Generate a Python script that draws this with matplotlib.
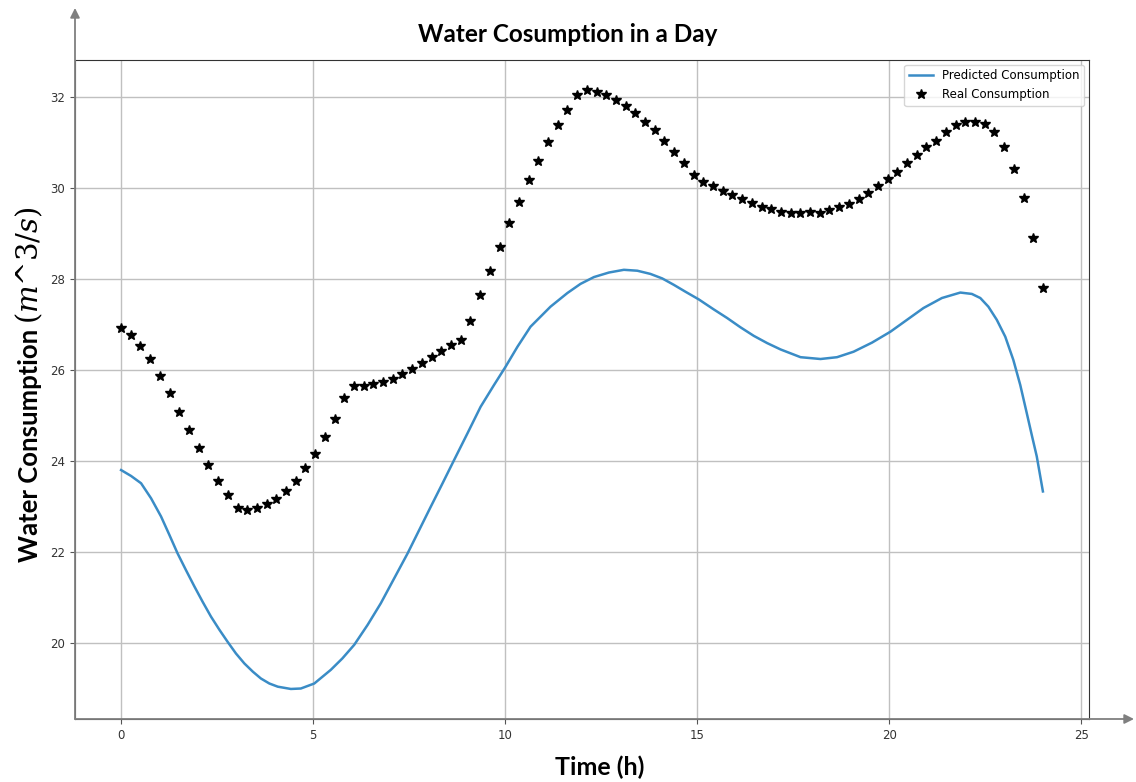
import numpy as np
import matplotlib
matplotlib.use("Agg")
import matplotlib.pyplot as plt
from matplotlib.patches import FancyArrowPatch

# ---- data ----
real_t = np.linspace(0, 24, 96)
real_values = [
    26.92, 26.77, 26.53, 26.24, 25.86, 25.49, 25.08, 24.69, 24.29, 23.92,
    23.57, 23.25, 22.96, 22.93, 22.96, 23.05, 23.16, 23.33, 23.57, 23.84,
    24.16, 24.53, 24.92, 25.38, 25.65, 25.65, 25.68, 25.73, 25.81, 25.91,
    26.02, 26.15, 26.29, 26.42, 26.55, 26.66, 27.08, 27.65, 28.18, 28.71,
    29.22, 29.69, 30.18, 30.60, 31.00, 31.38, 31.71, 32.04, 32.15, 32.10,
    32.04, 31.93, 31.80, 31.64, 31.45, 31.27, 31.03, 30.79, 30.55, 30.29,
    30.12, 30.04, 29.93, 29.85, 29.75, 29.67, 29.59, 29.53, 29.47, 29.45,
    29.45, 29.48, 29.45, 29.51, 29.57, 29.65, 29.75, 29.88, 30.04, 30.20,
    30.36, 30.54, 30.73, 30.89, 31.03, 31.22, 31.38, 31.45, 31.45, 31.41,
    31.22, 30.89, 30.42, 29.78, 28.89, 27.80,
]

pred_t = [0.00, 0.26, 0.52, 0.78, 1.04, 1.26, 1.47, 1.69, 1.91, 2.12,
          2.34, 2.56, 2.77, 2.99, 3.21, 3.43, 3.64, 3.86, 4.08, 4.42,
          4.68, 5.03, 5.46, 5.76, 6.07, 6.42, 6.76, 7.11, 7.46, 7.76,
          8.06, 8.37, 8.67, 9.02, 9.36, 9.71, 10.01, 10.32, 10.66, 11.18,
          11.62, 11.96, 12.31, 12.70, 13.09, 13.44, 13.78, 14.09, 14.39, 14.69,
          15.04, 15.43, 15.78, 16.12, 16.47, 16.82, 17.17, 17.69, 18.21, 18.64,
          19.07, 19.55, 20.03, 20.46, 20.89, 21.37, 21.85, 22.15, 22.37, 22.58,
          22.80, 23.02, 23.23, 23.41, 23.58, 23.71, 23.84, 24.00]
pred_values = [23.80, 23.67, 23.51, 23.18, 22.78, 22.37, 21.97, 21.60, 21.24, 20.91,
               20.58, 20.29, 20.03, 19.77, 19.55, 19.37, 19.22, 19.11, 19.04, 18.99,
               19.00, 19.11, 19.41, 19.66, 19.96, 20.40, 20.87, 21.42, 21.97, 22.48,
               22.99, 23.51, 24.02, 24.61, 25.19, 25.67, 26.07, 26.51, 26.95, 27.39,
               27.69, 27.89, 28.04, 28.14, 28.20, 28.18, 28.11, 28.01, 27.87, 27.72,
               27.55, 27.33, 27.14, 26.94, 26.75, 26.59, 26.45, 26.28, 26.24, 26.28,
               26.40, 26.60, 26.84, 27.10, 27.36, 27.58, 27.70, 27.67, 27.58, 27.39,
               27.10, 26.73, 26.22, 25.67, 25.05, 24.57, 24.10, 23.33]

title = "Water Cosumption in a Day"
xlabel = "Time (h)"
ylabel_text = "Water Consumption"
ylabel_unit = r"$(m$^$3/s)$"
legend_labels = ["Predicted Consumption", "Real Consumption"]

# ---- figure ----
plt.rcParams["mathtext.fontset"] = "dejavuserif"
W, H = 1136, 782
fig = plt.figure(figsize=(W / 100, H / 100), dpi=100)
ax = fig.add_axes([75 / W, 1 - 719 / H, (1089 - 75) / W, (719 - 60) / H])

ax.plot(pred_t, pred_values, color="#3a8cc6", lw=1.8, label=legend_labels[0])
ax.plot(real_t, real_values, "k*", markersize=7, label=legend_labels[1])

ax.set_xlim(-1.2, 25.2)
ax.set_ylim(18.33, 32.81)
ax.set_xticks([0, 5, 10, 15, 20, 25])
ax.set_yticks([20, 22, 24, 26, 28, 30, 32])
ax.grid(True, color="#c0c0c0", lw=1)
ax.tick_params(labelsize=8.5, labelcolor="#333333", color="#555555")
for s in ax.spines.values():
    s.set_color("#333333")

ax.legend(loc="upper right", fontsize=8.5, numpoints=1,
          fancybox=True, framealpha=0.8, borderaxespad=0.4)

fig.text(0.5, 1 - 34 / H, title, ha="center", va="center",
         fontsize=17.5, fontweight="bold", family="Lato")
fig.text(600 / W, 1 - 767 / H, xlabel, ha="center", va="center",
         fontsize=18, fontweight="bold", family="Lato")
fig.text(30 / W, 1 - 562 / H, ylabel_text, ha="center", va="bottom", rotation=90,
         fontsize=18.5, fontweight="bold", family="Lato")
fig.text(29 / W, 1 - 324 / H, ylabel_unit, ha="center", va="bottom", rotation=90,
         fontsize=21, family="DejaVu Serif", style="italic")

# axis arrows
arrow_kw = dict(arrowstyle="-|>", color="#7f7f7f", lw=1.3, mutation_scale=14,
                shrinkA=0, shrinkB=0)
fig.add_artist(FancyArrowPatch((75 / W, 1 - 719 / H), (75 / W, 1 - 8 / H),
                               transform=fig.transFigure, **arrow_kw))
fig.add_artist(FancyArrowPatch((75 / W, 1 - 719 / H), (1134 / W, 1 - 719 / H),
                               transform=fig.transFigure, **arrow_kw))

fig.savefig("out.png", dpi=100)
